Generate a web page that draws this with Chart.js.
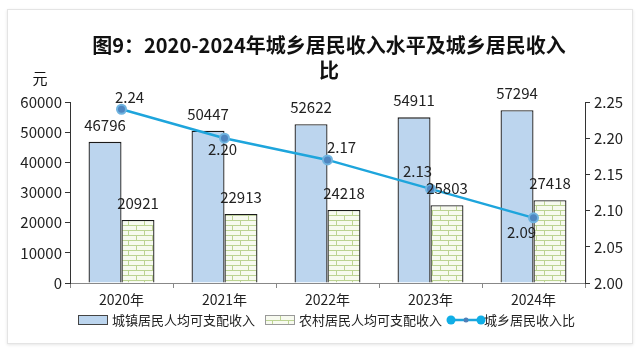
<!DOCTYPE html>
<html>
<head>
<meta charset="utf-8">
<script src="https://cdn.jsdelivr.net/npm/chart.js@4.4.1/dist/chart.umd.min.js"></script>
<style>
  html, body { margin: 0; padding: 0; background: #fff; }
  #wrap { position: relative; width: 644px; height: 350px; }
  #card { position: absolute; left: 7px; top: 9px; width: 624px; height: 333px; border: 1px solid #e4e4e4; box-shadow: 0 1px 3px rgba(0,0,0,0.10); }
  canvas { position: absolute; left: 0; top: 0; }
</style>
</head>
<body>
<div id="wrap"><div id="card"></div><canvas id="chart" width="644" height="350"></canvas></div>
<script>
  // data
  const years = ['2020年', '2021年', '2022年', '2023年', '2024年'];
  const urbanIncome = [46796, 50447, 52622, 54911, 57294];
  const ruralIncome = [20921, 22913, 24218, 25803, 27418];
  const incomeRatio = [2.24, 2.20, 2.17, 2.13, 2.09];
  const leftTicks = [0, 10000, 20000, 30000, 40000, 50000, 60000];
  const rightTicks = [2.00, 2.05, 2.10, 2.15, 2.20, 2.25];

  const seriesNames = ['城镇居民人均可支配收入', '农村居民人均可支配收入', '城乡居民收入比'];
  const titleLines = ['图9：2020-2024年城乡居民收入水平及城乡居民收入', '比'];

  // where each ratio label sits relative to its point (dx, dy)
  const ratioLabelShift = [[8, -12], [-2, 11], [14, -13], [-13, -18], [-12, 14]];

  const FONT = '"Noto Sans CJK SC", "Noto Sans", sans-serif';
  const BLUE = '#bcd5ee';
  const LINE = '#1ea5dc';

  // brick pattern for the rural bars
  function brickPattern() {
    const c = document.createElement('canvas');
    c.width = 16; c.height = 10;
    const g = c.getContext('2d');
    g.fillStyle = '#f7faef';
    g.fillRect(0, 0, 16, 10);
    g.strokeStyle = '#bcd392';
    g.lineWidth = 1;
    g.beginPath();
    g.moveTo(0, 0.5); g.lineTo(16, 0.5);
    g.moveTo(0, 5.5); g.lineTo(16, 5.5);
    g.moveTo(0.5, 0); g.lineTo(0.5, 5);
    g.moveTo(8.5, 5); g.lineTo(8.5, 10);
    g.stroke();
    return g.createPattern(c, 'repeat');
  }
  const BRICK = brickPattern();

  const decorations = {
    id: 'decorations',
    afterDatasetsDraw(chart) {
      const ctx = chart.ctx;
      ctx.save();
      ctx.fillStyle = '#222';
      ctx.font = '15px ' + FONT;
      ctx.textAlign = 'center';
      ctx.textBaseline = 'middle';
      [0, 1].forEach(di => {
        const meta = chart.getDatasetMeta(di);
        meta.data.forEach((bar, i) => {
          ctx.fillText(String(chart.data.datasets[di].data[i]), bar.x, bar.y - 17);
        });
      });
      const lm = chart.getDatasetMeta(2);
      lm.data.forEach((pt, i) => {
        const s = ratioLabelShift[i];
        ctx.fillText(incomeRatio[i].toFixed(2), pt.x + s[0], pt.y + s[1]);
      });
      ctx.restore();
    },
    afterDraw(chart) {
      const ctx = chart.ctx;
      ctx.save();
      // title
      ctx.fillStyle = '#111';
      ctx.textAlign = 'center';
      ctx.textBaseline = 'middle';
      ctx.font = 'bold 20px ' + FONT;
      ctx.fillText(titleLines[0], 329, 45);
      ctx.fillText(titleLines[1], 329, 70);
      // unit
      ctx.font = '15px ' + FONT;
      ctx.fillText('元', 40, 78);

      // legend
      const y = 320;
      ctx.font = '13px ' + FONT;
      ctx.textAlign = 'left';
      ctx.lineWidth = 1;
      ctx.strokeStyle = '#444';
      ctx.fillStyle = BLUE;
      ctx.fillRect(78, y - 5, 30, 10);
      ctx.strokeRect(78.5, y - 4.5, 29, 9);
      ctx.fillStyle = '#222';
      ctx.fillText(seriesNames[0], 112, y);

      ctx.fillStyle = BRICK;
      ctx.fillRect(265, y - 5, 30, 10);
      ctx.strokeStyle = '#999';
      ctx.strokeRect(265.5, y - 4.5, 29, 9);
      ctx.fillStyle = '#222';
      ctx.fillText(seriesNames[1], 299, y);

      ctx.strokeStyle = LINE;
      ctx.lineWidth = 2.5;
      ctx.beginPath(); ctx.moveTo(451, y); ctx.lineTo(481, y); ctx.stroke();
      ctx.fillStyle = '#10aee6';
      [451, 481].forEach(x => { ctx.beginPath(); ctx.arc(x, y, 4.5, 0, Math.PI * 2); ctx.fill(); });
      ctx.fillStyle = '#4f7fb8';
      ctx.beginPath(); ctx.arc(466, y, 2.5, 0, Math.PI * 2); ctx.fill();
      ctx.fillStyle = '#222';
      ctx.fillText(seriesNames[2], 484, y);
      ctx.restore();
    }
  };

  new Chart(document.getElementById('chart'), {
    type: 'bar',
    data: {
      labels: years,
      datasets: [
        {
          label: seriesNames[0], data: urbanIncome, yAxisID: 'y', order: 1,
          backgroundColor: BLUE, borderColor: '#1a1a1a', borderWidth: 1.3,
          barPercentage: 1, categoryPercentage: 0.64
        },
        {
          label: seriesNames[1], data: ruralIncome, yAxisID: 'y', order: 2,
          backgroundColor: BRICK, borderColor: '#1a1a1a', borderWidth: 1.3,
          barPercentage: 1, categoryPercentage: 0.64
        },
        {
          type: 'line', label: seriesNames[2], data: incomeRatio, yAxisID: 'y1', order: 0,
          borderColor: LINE, borderWidth: 2.5, tension: 0,
          pointRadius: 4.5, pointBackgroundColor: '#4f86c0', pointBorderColor: '#6fb4e0', pointBorderWidth: 2
        }
      ]
    },
    options: {
      responsive: false,
      devicePixelRatio: 1,
      animation: false,
      layout: { padding: { top: 102, bottom: 0, left: 0, right: 0 } },
      plugins: { legend: { display: false }, title: { display: false }, tooltip: { enabled: false } },
      scales: {
        x: {
          afterFit: s => { s.height = 67; },
          grid: { display: true, drawOnChartArea: false, drawTicks: true, tickLength: 5, color: '#888' },
          border: { color: '#888', width: 1 },
          ticks: { color: '#222', font: { family: FONT, size: 14 }, padding: 3 }
        },
        y: {
          position: 'left',
          min: leftTicks[0], max: leftTicks[leftTicks.length - 1],
          afterFit: s => { s.width = 70; },
          afterBuildTicks: s => { s.ticks = leftTicks.map(v => ({ value: v })); },
          grid: { display: true, drawOnChartArea: false, drawTicks: true, tickLength: 5, color: '#333' },
          border: { color: '#333', width: 1 },
          ticks: { color: '#222', font: { family: FONT, size: 15 }, padding: 3, callback: v => String(v) }
        },
        y1: {
          position: 'right',
          min: rightTicks[0], max: rightTicks[rightTicks.length - 1],
          afterFit: s => { s.width = 59; },
          afterBuildTicks: s => { s.ticks = rightTicks.map(v => ({ value: v })); },
          grid: { display: true, drawOnChartArea: false, drawTicks: true, tickLength: 5, color: '#333' },
          border: { color: '#333', width: 1 },
          ticks: { color: '#222', font: { family: FONT, size: 15 }, padding: 4, callback: v => Number(v).toFixed(2) }
        }
      }
    },
    plugins: [decorations]
  });
</script>
</body>
</html>
